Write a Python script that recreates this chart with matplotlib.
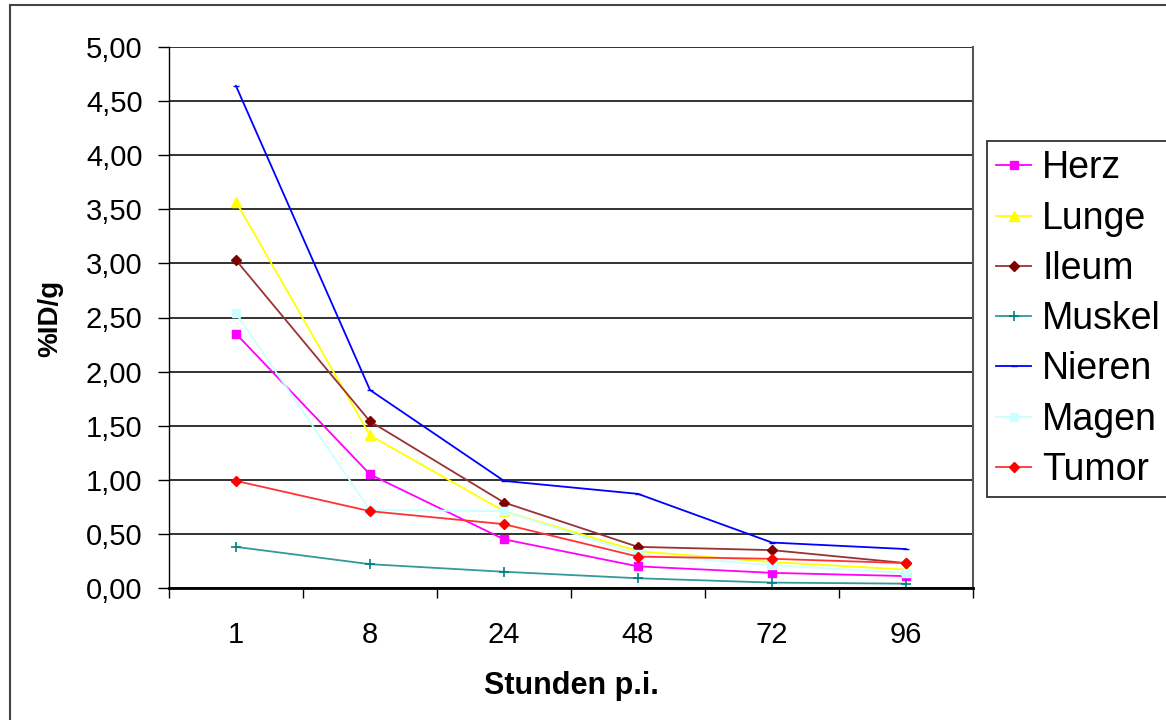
import matplotlib
matplotlib.use("Agg")
import matplotlib.pyplot as plt
from matplotlib.patches import Rectangle
from matplotlib.ticker import FuncFormatter, FixedLocator

plt.rcParams['font.family'] = ['Liberation Sans', 'DejaVu Sans']

# Zeitpunkte nach Injektion
hours = ["1", "8", "24", "48", "72", "96"]

# Organverteilung in %ID/g
herz = [2.35, 1.05, 0.45, 0.20, 0.14, 0.11]
lunge = [3.57, 1.41, 0.71, 0.34, 0.24, 0.17]
ileum = [3.03, 1.54, 0.79, 0.38, 0.35, 0.23]
muskel = [0.38, 0.22, 0.15, 0.09, 0.05, 0.04]
nieren = [4.64, 1.83, 0.99, 0.87, 0.42, 0.36]
magen = [2.54, 0.72, 0.71, 0.31, 0.21, 0.14]
tumor = [0.99, 0.71, 0.59, 0.29, 0.27, 0.23]

W, H = 1166, 720
fig = plt.figure(figsize=(W / 100, H / 100), dpi=100)
fig.patch.set_facecolor("white")

# Rahmen des Diagrammbereichs
fig.patches.append(Rectangle((10 / W, -0.02), 1.1, 1 - 5 / H + 0.02,
                             transform=fig.transFigure, fill=False,
                             edgecolor="#444444", linewidth=1.5))

ax = fig.add_axes([169 / W, 1 - 588 / H, (973 - 169) / W, (588 - 47) / H])
x = list(range(len(hours)))

series = [
    ("Herz", herz, dict(color="#FF00FF", marker="s", markersize=6,
                        markerfacecolor="#FF00FF", markeredgecolor="#FF00FF")),
    ("Lunge", lunge, dict(color="#FFFF00", marker="^", markersize=7,
                          markerfacecolor="#FFFF00", markeredgecolor="#FFFF00")),
    ("Ileum", ileum, dict(color="#993333", marker="D", markersize=5,
                          markerfacecolor="#800000", markeredgecolor="#800000")),
    ("Muskel", muskel, dict(color="#339999", marker="+", markersize=7,
                            markeredgewidth=1.2, markeredgecolor="#008080")),
    ("Nieren", nieren, dict(color="#0000FF", marker="_", markersize=4,
                            markeredgecolor="#0000FF")),
    ("Magen", magen, dict(color="#CCFFFF", marker="s", markersize=6,
                          markerfacecolor="#CCFFFF", markeredgecolor="#CCFFFF")),
    ("Tumor", tumor, dict(color="#FF3333", marker="D", markersize=5,
                          markerfacecolor="#FF0000", markeredgecolor="#FF0000")),
]

for name, vals, style in series:
    ax.plot(x, vals, linewidth=1.3, label=name, **style)

ax.set_xlim(-0.5, len(hours) - 0.5)
ax.set_ylim(0, 5)

# Y-Achse
ax.yaxis.set_major_locator(FixedLocator([i * 0.5 for i in range(11)]))
ax.yaxis.set_major_formatter(FuncFormatter(lambda v, p: f"{v:.2f}".replace(".", ",")))
ax.tick_params(axis="y", direction="out", length=8, width=1, pad=11,
               labelsize=21, colors="black")
ax.grid(axis="y", color="#222222", linewidth=1.3)
ax.set_axisbelow(True)

# X-Achse: Beschriftung mittig, Striche an den Kategoriegrenzen
ax.set_xticks(x)
ax.set_xticklabels(hours)
ax.set_xticks([i - 0.5 for i in range(len(hours) + 1)], minor=True)
ax.tick_params(axis="x", which="major", length=0, pad=24, labelsize=21)
ax.tick_params(axis="x", which="minor", direction="out", length=7, width=1)

ax.spines["top"].set_visible(False)
ax.spines["left"].set_linewidth(1.0)
ax.spines["bottom"].set_linewidth(2.0)
ax.spines["right"].set_color("#555555")
ax.spines["right"].set_linewidth(1.5)

fig.text(571 / W, 1 - 694 / H, "Stunden p.i.", ha="center", va="baseline",
         fontsize=22, fontweight="bold")
fig.text(50 / W, 1 - 318 / H, "%ID/g", ha="center", va="center",
         rotation=90, fontsize=20, fontweight="bold")

leg = fig.legend(loc="upper left", bbox_to_anchor=(987 / W, 1 - 141 / H),
                 fontsize=27, frameon=True, fancybox=False, shadow=False,
                 handlelength=0.92, handletextpad=0.3, borderpad=0.25,
                 labelspacing=0.38, borderaxespad=0)
leg.get_frame().set_edgecolor("black")
leg.get_frame().set_linewidth(1.3)

fig.savefig("out.png", dpi=100, facecolor="white")
